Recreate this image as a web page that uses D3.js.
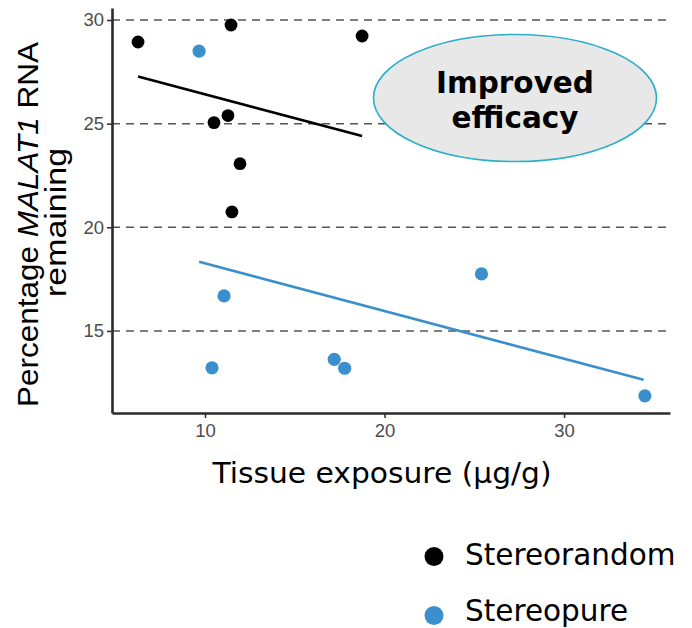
<!DOCTYPE html>
<html><head><meta charset="utf-8">
<script src="https://cdn.jsdelivr.net/npm/d3@7"></script>
<style>body{margin:0;background:#fff}svg{display:block}</style>
</head><body>
<svg id="c" width="692" height="628"></svg>
<script>
// Data
const stereorandomX = [6.27, 11.45, 18.75, 10.5, 11.28, 11.95, 11.5];
const stereorandomY = [28.94, 29.76, 29.23, 25.05, 25.39, 23.07, 20.74];
const stereopureX = [9.67, 11.06, 10.39, 17.2, 17.78, 25.4, 34.5];
const stereopureY = [28.5, 16.69, 13.22, 13.63, 13.2, 17.75, 11.87];
const fitRandomX = [6.27, 18.75];
const fitRandomY = [27.27, 24.4];
const fitPureX = [9.67, 34.43];
const fitPureY = [18.34, 12.64];
const xTicks = [10, 20, 30];
const yTicks = [15, 20, 25, 30];
const legendLabels = ["Stereorandom", "Stereopure"];
const colors = ["#000000", "#3a8fcc"];

const svg = d3.select("#c");
const x = d3.scaleLinear().domain([4.82, 35.9]).range([112, 670]);
const y = d3.scaleLinear().domain([11.04, 30.58]).range([413, 8]);

// gridlines
svg.append("g").selectAll("line").data(yTicks).join("line")
  .attr("x1", x.range()[0]).attr("x2", x.range()[1])
  .attr("y1", d => y(d)).attr("y2", d => y(d))
  .attr("stroke", "#555").attr("stroke-width", 1.5)
  .attr("stroke-dasharray", "8,6");

// axes
const gy = svg.append("g").attr("transform", "translate(112,0)")
  .call(d3.axisLeft(y).tickValues(yTicks).tickSize(5).tickSizeOuter(0).tickPadding(3));
const gx = svg.append("g").attr("transform", "translate(0,413)")
  .call(d3.axisBottom(x).tickValues(xTicks).tickSize(5).tickSizeOuter(0).tickPadding(6));
[gx, gy].forEach(g => {
  g.select(".domain").attr("stroke", "#2b2b2b").attr("stroke-width", 2.6);
  g.selectAll(".tick line").attr("stroke", "#2b2b2b").attr("stroke-width", 1.5);
  g.selectAll(".tick text").attr("fill", "#4d4d4d")
    .style("font-family", "'Liberation Sans', Arial, sans-serif").style("font-size", "18.5px");
});

// fit lines
const line = d3.line().x(d => x(d[0])).y(d => y(d[1]));
svg.append("path").datum(d3.zip(fitRandomX, fitRandomY)).attr("d", line)
  .attr("fill", "none").attr("stroke", colors[0]).attr("stroke-width", 2.6);
svg.append("path").datum(d3.zip(fitPureX, fitPureY)).attr("d", line)
  .attr("fill", "none").attr("stroke", colors[1]).attr("stroke-width", 2.6);

// points
svg.append("g").selectAll("circle").data(d3.zip(stereorandomX, stereorandomY)).join("circle")
  .attr("cx", d => x(d[0])).attr("cy", d => y(d[1])).attr("r", 6.4).attr("fill", colors[0]);
svg.append("g").selectAll("circle").data(d3.zip(stereopureX, stereopureY)).join("circle")
  .attr("cx", d => x(d[0])).attr("cy", d => y(d[1])).attr("r", 6.6).attr("fill", colors[1]);

// annotation ellipse
svg.append("ellipse").attr("cx", 515).attr("cy", 98).attr("rx", 141.5).attr("ry", 63.5)
  .attr("fill", "#e8e8e8").attr("stroke", "#2bb0c8").attr("stroke-width", 1.6);
const ann = svg.append("text").attr("text-anchor", "middle")
  .style("font-family", "'DejaVu Sans', Verdana, sans-serif").style("font-weight", "bold")
  .style("font-size", "29.5px").attr("fill", "#000");
ann.append("tspan").attr("x", 515).attr("y", 93).text("Improved");
ann.append("tspan").attr("x", 515).attr("y", 128).text("efficacy");

// x title
svg.append("text").attr("x", 382).attr("y", 483).attr("text-anchor", "middle")
  .style("font-family", "'DejaVu Sans', Verdana, sans-serif").style("font-size", "27.5px")
  .attr("textLength", 339).attr("lengthAdjust", "spacingAndGlyphs")
  .text("Tissue exposure (μg/g)");

// y title
const yt = svg.append("text").attr("transform", "translate(38,224.5) rotate(-90)")
  .attr("text-anchor", "middle")
  .attr("textLength", 365).attr("lengthAdjust", "spacingAndGlyphs")
  .style("font-family", "'Liberation Sans', Arial, sans-serif").style("font-size", "30px");
yt.append("tspan").text("Percentage ");
yt.append("tspan").style("font-style", "italic").text("MALAT1");
yt.append("tspan").text(" RNA");
svg.append("text").attr("transform", "translate(66,222.5) rotate(-90)")
  .attr("text-anchor", "middle")
  .attr("textLength", 149).attr("lengthAdjust", "spacingAndGlyphs")
  .style("font-family", "'Liberation Sans', Arial, sans-serif").style("font-size", "30px")
  .text("remaining");

// legend
const lg = svg.append("g").selectAll("g").data(legendLabels).join("g");
lg.append("circle").attr("cx", 434).attr("cy", (d, i) => 556.5 + i * 59).attr("r", 9.5)
  .attr("fill", (d, i) => colors[i]);
lg.append("text").attr("x", 465).attr("y", (d, i) => 565 + i * 55.5)
  .style("font-family", "'DejaVu Sans', Verdana, sans-serif").style("font-size", "29.5px")
  .attr("fill", "#000").text(d => d);
</script>
</body></html>
